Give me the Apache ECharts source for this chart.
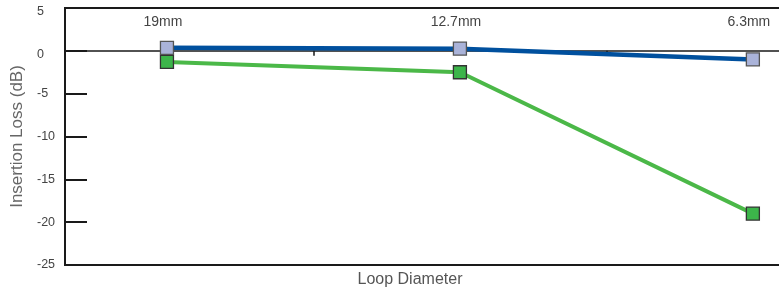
<!DOCTYPE html>
<html>
<head>
<meta charset="utf-8">
<script src="https://cdn.jsdelivr.net/npm/echarts@6/dist/echarts.min.js"></script>
<style>
html,body{margin:0;padding:0;background:#fff;}
#chart{width:779px;height:289px;}
</style>
</head>
<body>
<div id="chart"></div>
<script>
var categories = ['19mm', '12.7mm', '6.3mm'];
var blueValues = [0.35, 0.25, -1.0];
var greenValues = [-1.3, -2.5, -19.0];
var yTicks = [5, 0, -5, -10, -15, -20, -25];

function pairs(vals) { return vals.map(function (v, i) { return [i, v]; }); }

var FONT = '"Liberation Sans", Arial, sans-serif';
var xMin = -0.348, xMax = 2.096;

var chart = echarts.init(document.getElementById('chart'), null, { renderer: 'canvas' });
chart.setOption({
  animation: false,
  backgroundColor: '#fff',
  title: {
    text: 'Loop Diameter',
    left: 405, top: 267, textAlign: 'center',
    textStyle: { fontFamily: FONT, fontSize: 16, fontWeight: 'normal', color: '#555' }
  },
  grid: {
    left: 65, right: -2, top: 8, bottom: 24,
    outerBoundsMode: 'none', containLabel: false,
    show: true, borderColor: '#1a1a1a', borderWidth: 2, backgroundColor: 'transparent'
  },
  xAxis: [
    {
      type: 'value', min: xMin, max: xMax, position: 'bottom',
      axisLine: { show: true, onZero: true, lineStyle: { color: '#1a1a1a', width: 1.5 } },
      axisTick: { show: true, customValues: [0.5, 1.5], length: 5, lineStyle: { color: '#1a1a1a', width: 1.5 } },
      axisLabel: { show: false },
      splitLine: { show: false }
    },
    {
      type: 'value', min: xMin, max: xMax, position: 'top',
      axisLine: { show: false },
      axisTick: { show: false },
      axisLabel: {
        show: true, inside: true, margin: 7,
        customValues: [0, 1, 2],
        padding: [0, 8, 0, 0],
        formatter: function (v) { return categories[Math.round(v)]; },
        fontFamily: FONT, fontSize: 14, color: '#444'
      },
      splitLine: { show: false }
    }
  ],
  yAxis: {
    type: 'value', min: -25, max: 5, interval: 5,
    name: 'Insertion Loss (dB)', nameLocation: 'middle', nameGap: 39,
    nameTextStyle: { fontFamily: FONT, fontSize: 17, color: '#666' },
    axisLine: { show: true, onZero: false, lineStyle: { color: '#1a1a1a', width: 2 } },
    axisTick: { show: true, inside: true, length: 22, lineStyle: { color: '#1a1a1a', width: 2 } },
    axisLabel: {
      align: 'left', margin: 28, fontFamily: FONT, fontSize: 12.5, color: '#444',
      formatter: function (v) {
        if (yTicks.indexOf(v) < 0) return '';
        return v >= 0 ? '{lo|' + v + '}' : String(v);
      },
      rich: { lo: { fontFamily: FONT, fontSize: 12.5, color: '#444', padding: [8, 0, 0, 0] } }
    },
    splitLine: { show: false }
  },
  series: [
    {
      type: 'line', xAxisIndex: 0, data: pairs(greenValues), z: 3,
      symbol: 'rect', symbolSize: 13,
      lineStyle: { color: '#4bb848', width: 4 },
      itemStyle: { color: '#3cb54a', borderColor: '#333', borderWidth: 1.3 }
    },
    {
      type: 'line', xAxisIndex: 0, data: pairs(blueValues), z: 4,
      symbol: 'rect', symbolSize: 13,
      lineStyle: { color: '#00509e', width: 4.5 },
      itemStyle: { color: '#aab3d9', borderColor: '#555', borderWidth: 1.3 }
    }
  ]
});
</script>
</body>
</html>
